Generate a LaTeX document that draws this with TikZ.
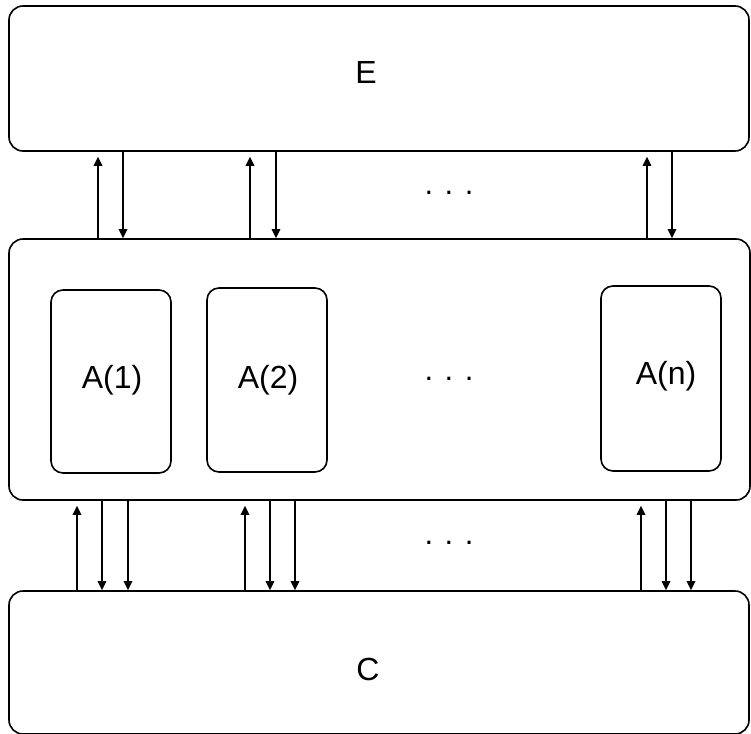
\documentclass[tikz,border=0pt]{standalone}
\usepackage{fontspec}
\setmainfont{Liberation Sans}
\usetikzlibrary{arrows.meta}
\begin{document}
\begin{tikzpicture}[x=1pt,y=-1pt,
  bigbox/.style={draw, line width=1.6pt, rounded corners=14pt, inner sep=0pt},
  abox/.style={draw, line width=1.6pt, rounded corners=12pt, inner sep=0pt, minimum width=120pt},
  lbl/.style={font=\fontsize{32}{36}\selectfont, inner sep=0pt},
  dots/.style={font=\fontsize{31}{36}\selectfont, inner sep=0pt},
  arr/.style={line width=1.5pt, -{Triangle[width=8.5pt,length=9pt]}}]
\useasboundingbox (0,0) rectangle (751,733);
% boxes
\node[bigbox, minimum width=740pt, minimum height=145pt] (E) at (379,78.5) {};
\node[bigbox, minimum width=741pt, minimum height=261pt] (M) at (379.5,369.5) {};
\node[bigbox, minimum width=740pt, minimum height=143pt] (C) at (379,662.5) {};
\node[abox, minimum height=183pt] (A1) at (111,381.5) {};
\node[abox, minimum height=184pt] (A2) at (267,380) {};
\node[abox, minimum height=185pt] (An) at (661,378.5) {};
% labels
\node[lbl] (tE) at (366,72) {E};
\node[lbl] (tC) at (368,669) {C};
\node[lbl] (t1) at (112,380) {A(1)};
\node[lbl] (t2) at (268,380) {A(2)};
\node[lbl] (tn) at (666,376) {A(n)};
\node[dots, anchor=base] (d1) at (449,194) {. . .};
\node[dots, anchor=base] (d2) at (449,380) {. . .};
\node[dots, anchor=base] (d3) at (449,544) {. . .};
% x positions
\foreach \n/\x in {u1/98,w1/123,u2/250,w2/276,un/647,wn/672}
  \coordinate (\n) at (\x,0);
\foreach \n/\x in {p1/77,q1/102,r1/128,p2/245,q2/270,r2/295,pn/641,qn/666,rn/691}
  \coordinate (\n) at (\x,0);
% E <-> M
\foreach \i in {1,2,n}{
  \draw[arr] (u\i |- M.north) -- ([yshift=-5pt]u\i |- E.south);
  \draw[arr] (w\i |- E.south) -- (w\i |- M.north);
}
% M <-> C
\foreach \i in {1,2,n}{
  \draw[arr] (p\i |- C.north) -- ([yshift=-5pt]p\i |- M.south);
  \draw[arr] (q\i |- M.south) -- (q\i |- C.north);
  \draw[arr] (r\i |- M.south) -- (r\i |- C.north);
}
\end{tikzpicture}
\end{document}
